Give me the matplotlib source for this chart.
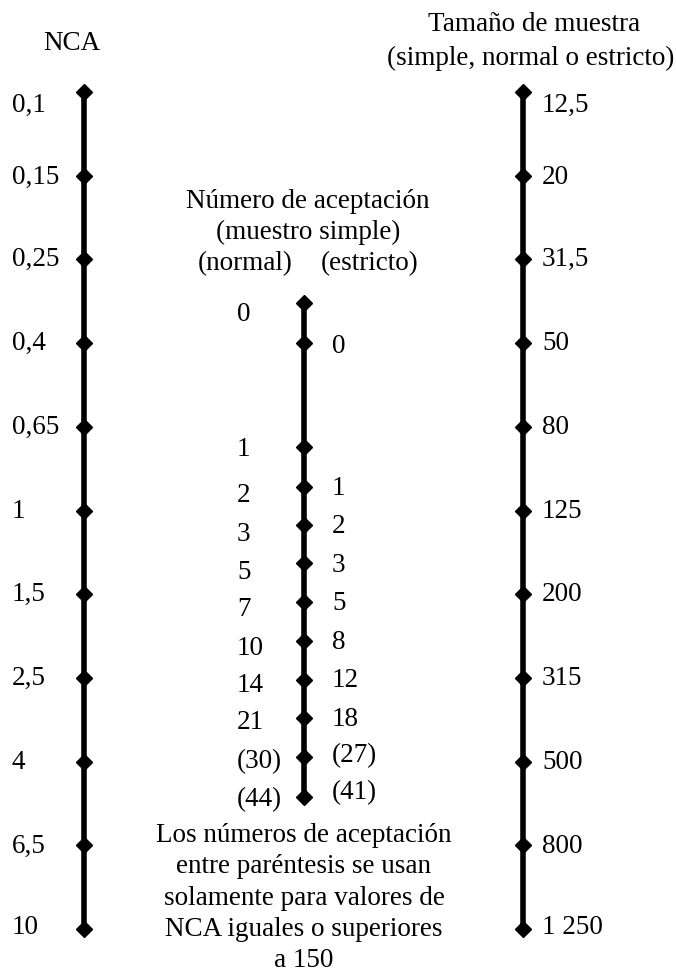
import matplotlib
matplotlib.use("Agg")
import matplotlib.pyplot as plt

plt.rcParams['font.family'] = ['Liberation Serif', 'DejaVu Serif']

# escala NCA (izquierda) y tamaño de muestra (derecha), mismas posiciones
nca_labels = ["0,1", "0,15", "0,25", "0,4", "0,65", "1", "1,5", "2,5", "4", "6,5", "10"]
size_labels = ["12,5", "20", "31,5", "50", "80", "125", "200", "315", "500", "800", "1 250"]
scale_pos = list(range(11))
# posicion de los textos (centro)
side_label_pos = [0.13, 0.98, 1.97, 2.97, 3.97, 4.97, 5.97, 6.97, 7.97, 8.98, 9.94]

# escala central: numero de aceptacion
mid_dots = [2.52, 3.00, 4.24, 4.72, 5.17, 5.63, 6.09, 6.56, 7.03, 7.48, 7.95, 8.42]
normal_labels = ["0", "1", "2", "3", "5", "7", "10", "14", "21", "(30)", "(44)"]
normal_pos = [2.62, 4.24, 4.78, 5.25, 5.70, 6.15, 6.61, 7.06, 7.50, 7.97, 8.42]
strict_labels = ["0", "1", "2", "3", "5", "8", "12", "18", "(27)", "(41)"]
strict_pos = [3.00, 4.70, 5.16, 5.62, 6.07, 6.54, 7.00, 7.46, 7.89, 8.34]

x_left, x_mid, x_right = 84, 304, 523
fs = 19.5

fig = plt.figure(figsize=(6.76, 9.77), dpi=100)
ax = fig.add_axes([0, 0, 1, 1])
ax.set_xlim(0, 676)
ax.set_ylim(10.573, -1.099)
ax.axis('off')

for x in [x_left, x_right]:
    ax.plot([x] * len(scale_pos), scale_pos, color='black', lw=4,
            marker='D', ms=8.5, solid_capstyle='butt')
ax.plot([x_mid] * len(mid_dots), mid_dots, color='black', lw=4,
        marker='D', ms=8.5, solid_capstyle='butt')

for lab, y in zip(nca_labels, side_label_pos):
    ax.text(12, y, lab, fontsize=fs, ha='left', va='center_baseline')
for lab, y in zip(size_labels, side_label_pos):
    ax.text(542, y, lab, fontsize=fs, ha='left', va='center_baseline')
for lab, y in zip(normal_labels, normal_pos):
    ax.text(237, y, lab, fontsize=fs, ha='left', va='center_baseline')
for lab, y in zip(strict_labels, strict_pos):
    ax.text(332, y, lab, fontsize=fs, ha='left', va='center_baseline')

# titulos
ax.text(72, -0.62, "NCA", fontsize=fs, ha='center', va='center_baseline')
ax.text(534, -0.84, "Tamaño de muestra", fontsize=fs, ha='center', va='center_baseline')
ax.text(674, -0.44, "(simple, normal o estricto)", fontsize=fs, ha='right', va='center_baseline')
ax.text(308, 1.27, "Número de aceptación", fontsize=fs, ha='center', va='center_baseline')
ax.text(308, 1.64, "(muestro simple)", fontsize=fs, ha='center', va='center_baseline')
ax.text(245, 2.02, "(normal)", fontsize=fs, ha='center', va='center_baseline')
ax.text(370, 2.02, "(estricto)", fontsize=fs, ha='center', va='center_baseline')

note = ("Los números de aceptación\nentre paréntesis se usan\nsolamente para valores de\n"
        "NCA iguales o superiores\na 150")
ax.text(304, 9.63, note, fontsize=fs, ha='center', va='center', linespacing=1.33)

fig.savefig("out.png", dpi=100)
